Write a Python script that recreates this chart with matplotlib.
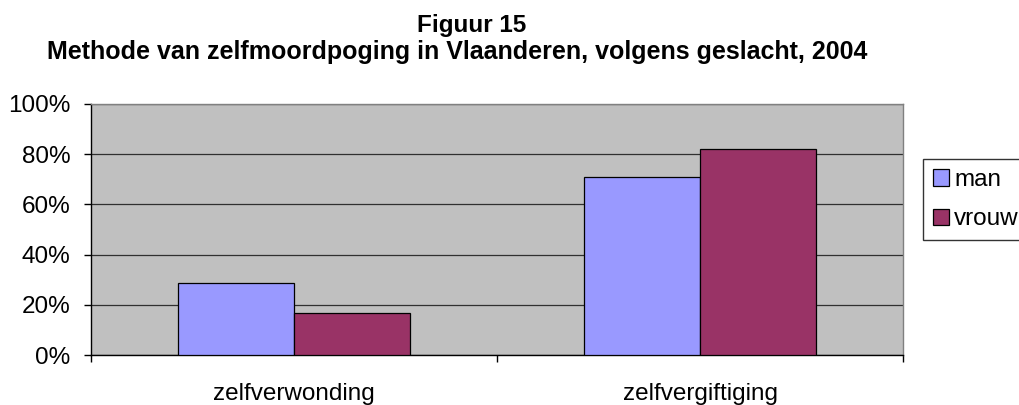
import matplotlib
matplotlib.use("Agg")
import matplotlib.pyplot as plt
from matplotlib.ticker import FuncFormatter, FixedLocator
import numpy as np

# Data
categories = ["zelfverwonding", "zelfvergiftiging"]
series_names = ["man", "vrouw"]
man_values = [28.7, 71.0]
vrouw_values = [16.9, 82.2]

colors = ["#9999FF", "#993366"]

plt.rcParams.update({
    "font.family": ["Liberation Sans", "DejaVu Sans"],
    "font.size": 17.5,
})

fig = plt.figure(figsize=(10.19, 4.05), dpi=100)
ax = fig.add_axes([91 / 1019, 1 - 355 / 405, 812 / 1019, 251 / 405])
ax.set_facecolor("#C0C0C0")

x = np.arange(len(categories))
width = 0.2857
for i, (name, vals) in enumerate(zip(series_names, [man_values, vrouw_values])):
    ax.bar(x + (i - 0.5) * width, vals, width, color=colors[i],
           edgecolor="black", linewidth=0.9, label=name, zorder=3)

ax.set_xlim(-0.5, len(categories) - 0.5)
ax.set_ylim(0, 100)

ax.set_yticks(np.arange(0, 101, 20))
ax.yaxis.set_major_formatter(FuncFormatter(lambda v, _: f"{v:.0f}%"))
ax.yaxis.grid(True, color="#303030", linewidth=0.9, zorder=1)
ax.set_axisbelow(True)

ax.set_xticks(x)
ax.set_xticklabels(categories)
ax.xaxis.set_minor_locator(FixedLocator(np.arange(-0.5, len(categories), 1.0)))
ax.tick_params(axis="x", which="major", length=0, pad=20, labelsize=17.5)
ax.tick_params(axis="x", which="minor", length=5, width=1, color="black")
ax.tick_params(axis="y", length=5, width=1, color="black", pad=10, labelsize=17.5)

for side in ("left", "bottom"):
    ax.spines[side].set_color("black")
    ax.spines[side].set_linewidth(1)
for side in ("top", "right"):
    ax.spines[side].set_color("#808080")
    ax.spines[side].set_linewidth(1)

leg = ax.legend(loc="upper left", bbox_to_anchor=(923 / 1019, 1 - 159 / 405),
                bbox_transform=fig.transFigure, frameon=True, fancybox=False,
                edgecolor="black", fontsize=17.5, handlelength=0.66,
                handleheight=0.66, handletextpad=0.2, labelspacing=0.7,
                borderpad=0.42, borderaxespad=0)
leg.get_frame().set_linewidth(1)

fig.text(472 / 1019, 1 - 32 / 405, "Figuur 15", ha="center", va="baseline",
         fontsize=17.5, fontweight="bold")
fig.text(457 / 1019, 1 - 59 / 405,
         "Methode van zelfmoordpoging in Vlaanderen, volgens geslacht, 2004",
         ha="center", va="baseline", fontsize=18, fontweight="bold")

fig.savefig("out.png", dpi=100, facecolor="white")
